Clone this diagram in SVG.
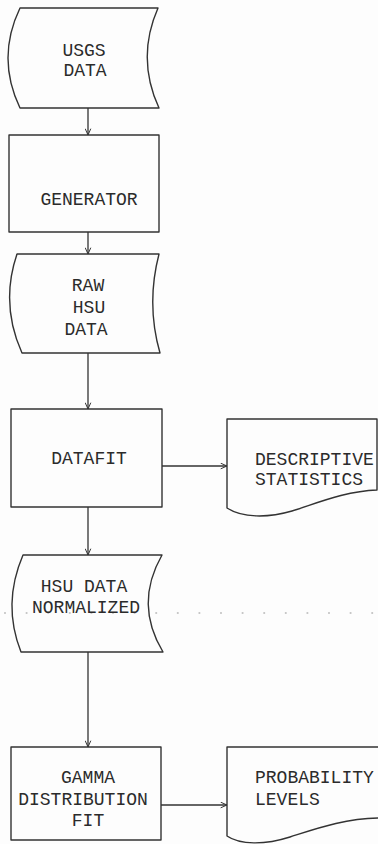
<svg xmlns="http://www.w3.org/2000/svg" width="378" height="844" viewBox="0 0 378 844">
  <defs>
    <marker id="arr" viewBox="0 0 10 10" refX="10" refY="5" markerWidth="7" markerHeight="7" markerUnits="userSpaceOnUse" orient="auto">
      <polyline points="1,1 10,5 1,9" fill="none" stroke="#333" stroke-width="1.4"/>
    </marker>
    <style>
      .shape { fill: none; stroke: #333; stroke-width: 1.4; stroke-linejoin: round; }
      .conn { fill: none; stroke: #333; stroke-width: 1.3; marker-end: url(#arr); }
      .lbl { font-family: "Liberation Mono", "DejaVu Sans Mono", monospace; font-size: 18px; fill: #2b2b2b; }
      .c { text-anchor: middle; }
      .dots { stroke: #c4c4c4; stroke-width: 2.2; stroke-linecap: round; stroke-dasharray: 0 21.6; fill: none; }
    </style>
  </defs>
  <rect width="378" height="844" fill="#fdfdfd"/>

  <path class="dots" d="M5,613 H378"/>

  <g id="usgs-data">
    <path class="shape" d="M20,8 L158,8 Q136,58 159,108 L20,108 Q-4,58 20,8 Z"/>
    <text class="lbl c" x="84" y="56">USGS</text>
    <text class="lbl c" x="85" y="76">DATA</text>
  </g>

  <g id="generator">
    <rect class="shape" x="9" y="135" width="150" height="97"/>
    <text class="lbl c" x="89" y="205">GENERATOR</text>
  </g>

  <g id="raw-hsu-data">
    <path class="shape" d="M17,254 L159,254 Q146,304 160,353 L22,353 Q0,304 17,254 Z"/>
    <text class="lbl c" x="88" y="291">RAW</text>
    <text class="lbl c" x="89" y="313">HSU</text>
    <text class="lbl c" x="86" y="335">DATA</text>
  </g>

  <g id="datafit">
    <rect class="shape" x="11" y="409" width="151" height="98"/>
    <text class="lbl c" x="89" y="464">DATAFIT</text>
  </g>

  <g id="descriptive-statistics">
    <path class="shape" d="M227,419 H377 V490 C345,491 315,504 292,511 C268,518 242,518 227,508 Z"/>
    <text class="lbl" x="255" y="465">DESCRIPTIVE</text>
    <text class="lbl" x="255" y="485">STATISTICS</text>
  </g>

  <g id="hsu-data-normalized">
    <path class="shape" d="M23,555 L162,555 Q134,604 163,652 L21,652 Q2,604 23,555 Z"/>
    <text class="lbl c" x="84" y="592">HSU DATA</text>
    <text class="lbl c" x="86" y="613">NORMALIZED</text>
  </g>

  <g id="gamma-distribution-fit">
    <rect class="shape" x="11" y="747" width="150" height="93"/>
    <text class="lbl c" x="88" y="783">GAMMA</text>
    <text class="lbl c" x="83" y="805">DISTRIBUTION</text>
    <text class="lbl c" x="88" y="826">FIT</text>
  </g>

  <g id="probability-levels">
    <path class="shape" d="M227,747 H382 V818 C345,818 315,829 290,837 C265,845 240,845 227,836 Z"/>
    <text class="lbl" x="255" y="783">PROBABILITY</text>
    <text class="lbl" x="255" y="805">LEVELS</text>
  </g>

  <g id="connectors">
    <line class="conn" x1="88" y1="108" x2="88" y2="135"/>
    <line class="conn" x1="88" y1="232" x2="88" y2="254"/>
    <line class="conn" x1="88" y1="353" x2="88" y2="409"/>
    <line class="conn" x1="162" y1="466" x2="227" y2="466"/>
    <line class="conn" x1="88" y1="507" x2="88" y2="555"/>
    <line class="conn" x1="88" y1="652" x2="88" y2="747"/>
    <line class="conn" x1="161" y1="805" x2="227" y2="805"/>
  </g>
</svg>
